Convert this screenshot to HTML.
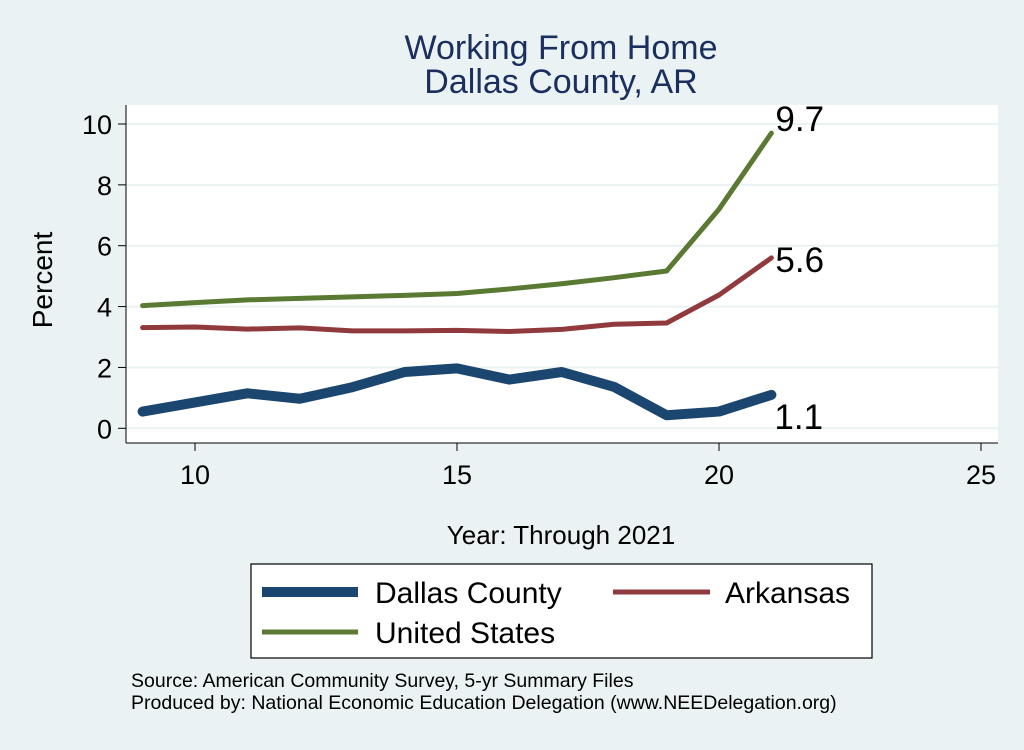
<!DOCTYPE html>
<html><head><meta charset="utf-8"><style>
body{margin:0;width:1024px;height:745px;background:#eaf2f3;overflow:hidden;font-family:"Liberation Sans",sans-serif}
</style></head><body>
<svg id="chart" width="1024" height="745" xmlns="http://www.w3.org/2000/svg" font-family="Liberation Sans, sans-serif">
<rect width="1024" height="745" fill="#eaf2f3"/>
<text x="561" y="59" font-size="34" fill="#1a2f5e" text-anchor="middle">Working From Home</text>
<text x="561" y="93" font-size="34" fill="#1a2f5e" text-anchor="middle">Dallas County, AR</text>
<rect x="126" y="105" width="872" height="338" fill="#fff"/>
<g id="grid"></g><g id="axes"></g><g id="series"></g>
<text x="52" y="280" font-size="28" text-anchor="middle" transform="rotate(-90 52 280)">Percent</text>
<text x="561" y="544" font-size="26" text-anchor="middle">Year: Through 2021</text>
<rect x="251" y="564" width="621" height="94" fill="#fff" stroke="#000" stroke-width="1.2"/>
<line x1="262" y1="592" x2="358" y2="592" stroke="#1b4670" stroke-width="10"/>
<text x="375" y="603" font-size="30">Dallas County</text>
<line x1="613" y1="592" x2="710" y2="592" stroke="#913a3e" stroke-width="5"/>
<text x="725" y="603" font-size="30">Arkansas</text>
<line x1="262" y1="632" x2="358" y2="632" stroke="#5a7a34" stroke-width="5"/>
<text x="375" y="643" font-size="30">United States</text>
<text x="131" y="687" font-size="19.5">Source: American Community Survey, 5-yr Summary Files</text>
<text x="131" y="709" font-size="19.5">Produced by: National Economic Education Delegation (www.NEEDelegation.org)</text>
</svg>
<script>
const years=[9,10,11,12,13,14,15,16,17,18,19,20,21];
const dallas=[0.55,0.85,1.15,0.97,1.35,1.85,1.97,1.6,1.85,1.36,0.43,0.55,1.1];
const arkansas=[3.31,3.33,3.26,3.3,3.2,3.2,3.22,3.18,3.25,3.42,3.46,4.38,5.6];
const unitedStates=[4.03,4.13,4.22,4.27,4.32,4.37,4.43,4.58,4.75,4.95,5.17,7.2,9.7];
const xTicks=[10,15,20,25];
const yTicks=[0,2,4,6,8,10];
const endLabels=["1.1","5.6","9.7"];
const NS="http://www.w3.org/2000/svg";
function xs(v){return 195+(v-10)*52.4;}
function ys(v){return 428.3-v*30.43;}
function mk(tag,attrs,parent){const e=document.createElementNS(NS,tag);for(const k in attrs)e.setAttribute(k,attrs[k]);document.getElementById(parent).appendChild(e);return e;}
yTicks.forEach(t=>{
 const g=mk('line',{x1:126,x2:998,y1:ys(t),y2:ys(t),stroke:'#eaf2f3','stroke-width':2},'grid');
 
 
 const tk=mk('line',{x1:118,x2:126,y1:ys(t),y2:ys(t),stroke:'#000'},'axes');
 
 
 const tx=mk('text',{x:112,y:ys(t)+10,'font-size':27,'text-anchor':'end'},'axes');tx.textContent=t;
 
 
});
xTicks.forEach(t=>{
 const tk=mk('line',{x1:xs(t),x2:xs(t),y1:443,y2:451,stroke:'#000'},'axes');
 
 
 const tx=mk('text',{x:xs(t),y:484,'font-size':27,'text-anchor':'middle'},'axes');tx.textContent=t;
 
 
});
const ax1=mk('line',{x1:126,x2:126,y1:105,y2:443,stroke:'#000'},'axes');


const ax2=mk('line',{x1:126,x2:998,y1:443,y2:443,stroke:'#000'},'axes');


const defs=[[unitedStates,'#5a7a34',5,'united-states-line',endLabels[2],[4,-2]],[arkansas,'#913a3e',5,'arkansas-line',endLabels[1],[4,14]],[dallas,'#1b4670',10,'dallas-county-line',endLabels[0],[3,34]]];
defs.forEach(([d,c,w,n,lab,off])=>{
 const p=mk('polyline',{points:d.map((v,i)=>xs(years[i])+','+ys(v)).join(' '),fill:'none',stroke:c,'stroke-width':w,'stroke-linejoin':'round','stroke-linecap':'round'},'series');
 
 
 const last=d.length-1;
 const t=mk('text',{x:xs(years[last])+off[0],y:ys(d[last])+off[1],'font-size':35},'series');t.textContent=lab;
 
 
});
</script>
</body></html>
